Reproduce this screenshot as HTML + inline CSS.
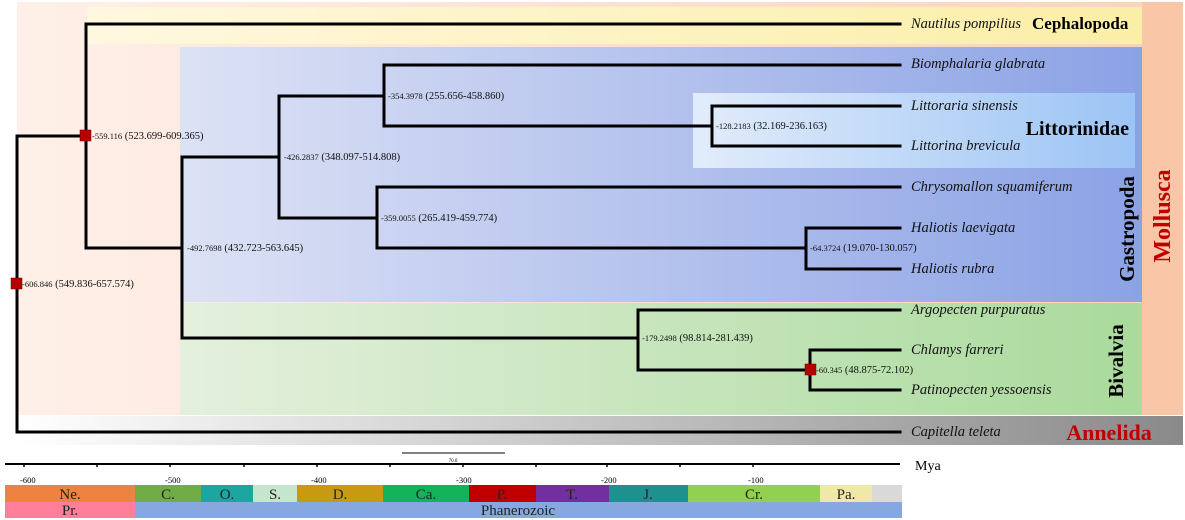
<!DOCTYPE html>
<html><head><meta charset="utf-8"><style>
body{margin:0;background:#fff}
svg{display:block}
text{font-family:"Liberation Serif",serif}
.sp{font-style:italic;font-size:14.5px;fill:#111}
.nl{font-size:10.5px;fill:#111}
.ns{font-size:8.5px}
.tk{font-size:8.5px;font-family:"Liberation Sans",sans-serif}
.per{font-size:15px;fill:#222;text-anchor:middle}
</style></head><body>
<svg width="1185" height="520" xmlns="http://www.w3.org/2000/svg">
<defs>
<linearGradient id="peach" x1="0" x2="1"><stop offset="0" stop-color="#FEF0E8"/><stop offset="1" stop-color="#FBD3BC"/></linearGradient>
<linearGradient id="ceph" x1="0" x2="1"><stop offset="0" stop-color="#FFF8E0"/><stop offset="1" stop-color="#FBEEA6"/></linearGradient>
<linearGradient id="gas" x1="0" x2="1"><stop offset="0" stop-color="#DDE2F5"/><stop offset="1" stop-color="#8BA2E5"/></linearGradient>
<linearGradient id="lit" x1="0" x2="1"><stop offset="0" stop-color="#E2ECFB"/><stop offset="1" stop-color="#9CC4F4"/></linearGradient>
<linearGradient id="biv" x1="0" x2="1"><stop offset="0" stop-color="#E4F0DD"/><stop offset="1" stop-color="#AADA9C"/></linearGradient>
<linearGradient id="ann" x1="0" x2="1"><stop offset="0" stop-color="#FFFFFF"/><stop offset="1" stop-color="#8A8A8A"/></linearGradient>
</defs>
<rect x="17" y="2" width="1166" height="413" fill="url(#peach)"/>
<rect x="1142" y="2" width="41" height="413" fill="#FAC6A8"/>
<rect x="87" y="7" width="1055" height="37" fill="url(#ceph)"/>
<rect x="180" y="47" width="962" height="255" fill="url(#gas)"/>
<rect x="693" y="93" width="442" height="75" fill="url(#lit)"/>
<rect x="180" y="303" width="962" height="112" fill="url(#biv)"/>
<rect x="17" y="416" width="1166" height="29" fill="url(#ann)"/>

<g stroke="#000" stroke-width="3" fill="none" stroke-linecap="square">
<path d="M900,24H86V248H182"/>
<path d="M17,136H86"/>
<path d="M17,136V432H900"/>
<path d="M182,157V338H638"/>
<path d="M182,157H279V96H384V65H900"/>
<path d="M384,96V126H712V106H900M712,126V146H900"/>
<path d="M279,96V218H377V187H900M377,218V248H806V228H900M806,248V269H900"/>
<path d="M638,310V370H810V350H900M810,370V390H900M638,310H900"/>
</g>
<g fill="#B80000" stroke="#600" stroke-width="0.5">
<rect x="11" y="278" width="11" height="11"/>
<rect x="80" y="130" width="11" height="11"/>
<rect x="805" y="364" width="11" height="11"/>
</g>
<g class="nl">
<text x="22" y="287"><tspan class="ns">-606.846</tspan> (549.836-657.574)</text>
<text x="92" y="139"><tspan class="ns">-559.116</tspan> (523.699-609.365)</text>
<text x="187" y="251"><tspan class="ns">-492.7698</tspan> (432.723-563.645)</text>
<text x="284" y="160"><tspan class="ns">-426.2837</tspan> (348.097-514.808)</text>
<text x="388" y="99"><tspan class="ns">-354.3978</tspan> (255.656-458.860)</text>
<text x="381" y="221"><tspan class="ns">-359.0055</tspan> (265.419-459.774)</text>
<text x="716" y="129"><tspan class="ns">-128.2183</tspan> (32.169-236.163)</text>
<text x="810" y="251"><tspan class="ns">-64.3724</tspan> (19.070-130.057)</text>
<text x="642" y="341"><tspan class="ns">-179.2498</tspan> (98.814-281.439)</text>
<text x="816" y="373"><tspan class="ns">-60.345</tspan> (48.875-72.102)</text>
</g>
<g class="sp">
<text x="911" y="28">Nautilus pompilius</text>
<text x="911" y="68">Biomphalaria glabrata</text>
<text x="911" y="110">Littoraria sinensis</text>
<text x="911" y="150">Littorina brevicula</text>
<text x="911" y="191">Chrysomallon squamiferum</text>
<text x="911" y="232">Haliotis laevigata</text>
<text x="911" y="273">Haliotis rubra</text>
<text x="911" y="314">Argopecten purpuratus</text>
<text x="911" y="354">Chlamys farreri</text>
<text x="911" y="394">Patinopecten yessoensis</text>
<text x="911" y="436">Capitella teleta</text>
</g>
<g font-weight="bold" font-family="Liberation Serif,serif">
<text x="1032" y="29" font-size="17">Cephalopoda</text>
<text x="1129" y="135" font-size="20" text-anchor="end">Littorinidae</text>
<text transform="translate(1134,229) rotate(-90)" font-size="21" text-anchor="middle">Gastropoda</text>
<text transform="translate(1123,361) rotate(-90)" font-size="21" text-anchor="middle">Bivalvia</text>
<text transform="translate(1170,216) rotate(-90)" font-size="24" text-anchor="middle" fill="#C00000">Mollusca</text>
<text x="1109" y="440" font-size="22" fill="#C00000" text-anchor="middle">Annelida</text>
</g>

<line x1="402" y1="453" x2="505" y2="453" stroke="#000" stroke-width="1"/>
<text x="453" y="462" font-size="5" text-anchor="middle" font-family="Liberation Sans,sans-serif">70.0</text>
<line x1="5" y1="464" x2="900" y2="464" stroke="#000" stroke-width="2"/>
<g stroke="#000" stroke-width="1.5">
<path d="M24,464v3M97,464v3M170,464v3M244,464v3M317,464v3M390,464v3M463,464v3M536,464v3M607,464v3M680,464v3M753,464v3"/>
</g>
<g class="tk">
<text x="20" y="483">-600</text><text x="165" y="483">-500</text><text x="311" y="483">-400</text>
<text x="456" y="483">-300</text><text x="601" y="483">-200</text><text x="748" y="483">-100</text>
</g>
<text x="915" y="470" font-size="14" font-family="Liberation Serif,serif">Mya</text>

<rect x="5" y="485" width="130" height="17" fill="#EE8240"/>
<rect x="135" y="485" width="66" height="17" fill="#70AD47"/>
<rect x="201" y="485" width="52" height="17" fill="#1CA6A0"/>
<rect x="253" y="485" width="44" height="17" fill="#C6E5CF"/>
<rect x="297" y="485" width="86" height="17" fill="#C79A12"/>
<rect x="383" y="485" width="86" height="17" fill="#12B35A"/>
<rect x="469" y="485" width="67" height="17" fill="#C00000"/>
<rect x="536" y="485" width="73" height="17" fill="#7030A0"/>
<rect x="609" y="485" width="79" height="17" fill="#1E9090"/>
<rect x="688" y="485" width="132" height="17" fill="#92D050"/>
<rect x="820" y="485" width="52" height="17" fill="#F0E8A8"/>
<rect x="872" y="485" width="30" height="17" fill="#D9D9D9"/>
<rect x="5" y="502" width="130" height="16" fill="#FF7F9A"/>
<rect x="135" y="502" width="767" height="16" fill="#86A7E0"/>
<g class="per">
<text x="70" y="499">Ne.</text><text x="168" y="499">C.</text><text x="227" y="499">O.</text>
<text x="275" y="499">S.</text><text x="340" y="499">D.</text><text x="426" y="499">Ca.</text>
<text x="502" y="499">P.</text><text x="572" y="499">T.</text><text x="648" y="499">J.</text>
<text x="754" y="499">Cr.</text><text x="846" y="499">Pa.</text>
<text x="70" y="515">Pr.</text><text x="518" y="515">Phanerozoic</text>
</g>
</svg>
</body></html>
